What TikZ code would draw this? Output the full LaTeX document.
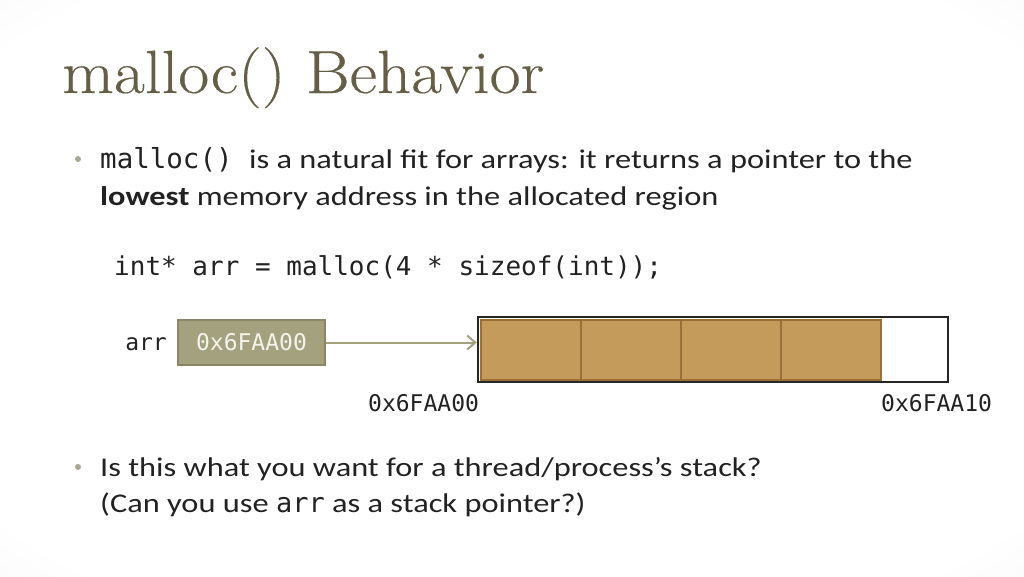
\documentclass[tikz,border=0pt]{standalone}
\usepackage{fontspec}
\newfontfamily\bodyfont[FakeStretch=1.2]{Carlito}
\newfontfamily\monofont{DejaVu Sans Mono}
\newfontfamily\titlefont[FakeStretch=1.1,FakeBold=0.3]{lmroman17-regular.otf}
\usetikzlibrary{arrows.meta}
\definecolor{titlec}{HTML}{645E45}
\definecolor{textc}{HTML}{222222}
\definecolor{dotc}{HTML}{A8A88E}
\definecolor{ptrfill}{HTML}{A4A17F}
\definecolor{ptrdraw}{HTML}{8A8766}
\definecolor{ptrtext}{HTML}{F4F3EC}
\definecolor{cellfill}{HTML}{C49B5A}
\definecolor{celldraw}{HTML}{9B7038}
\definecolor{arrowc}{HTML}{A4A17F}
\pgfdeclareradialshading{vign}{\pgfpoint{0bp}{0bp}}{color(0bp)=(white); color(32bp)=(white); color(50bp)=(black!7); color(72bp)=(black!22)}
\tikzset{
  body/.style={anchor=base west, inner sep=0pt, text=textc, font=\bodyfont\fontsize{27}{32}\selectfont},
  code/.style={anchor=base west, inner sep=0pt, text=textc, font=\monofont\fontsize{26}{30}\selectfont},
  addr/.style={anchor=base west, inner sep=0pt, text=textc, font=\monofont\fontsize{23}{26}\selectfont},
  bulletdot/.style={circle, fill=dotc, inner sep=0pt, minimum size=6pt},
  ptrbox/.style={draw=ptrdraw, fill=ptrfill, line width=1.5pt, minimum width=147pt, minimum height=45pt, inner sep=0pt, text=ptrtext, font=\monofont\fontsize{23}{26}\selectfont},
  cell/.style={draw=celldraw, fill=cellfill, line width=2pt, minimum width=100pt, minimum height=60pt, inner sep=0pt},
  memblock/.style={draw=black!85, line width=2.5pt, minimum width=470pt, minimum height=65pt, inner sep=0pt},
}
\begin{document}
\begin{tikzpicture}[x=1pt,y=-1pt]
\shade[shading=vign] (0,0) rectangle (1024,576);
\useasboundingbox (0,0) rectangle (1024,576);

\node[anchor=base west, inner sep=0pt, text=titlec, font=\titlefont\fontsize{61}{61}\selectfont] (title) at (62,93) {malloc() Behavior};

\node[bulletdot] (b1) at (78,159) {};
\node[body] (l1) at (100,168) {{\monofont\fontsize{27.5}{32}\selectfont malloc() }is a natural fit for arrays: it returns a pointer to the};
\node[body] (l2) at (100,205) {\textbf{lowest} memory address in the allocated region};

\node[code] (code) at (114,275) {int* arr = malloc(4 * sizeof(int));};

\node[addr, anchor=base east] (arrlbl) at (167,350) {arr};
\node[ptrbox] (ptr) at (251.5,342.5) {0x6FAA00};

\node[cell] (c1) at (530.5,350) {};
\node[cell] (c2) at (630.5,350) {};
\node[cell] (c3) at (730.5,350) {};
\node[cell] (c4) at (830.5,350) {};
\node[memblock] (mem) at (713,349.5) {};

\draw[arrowc, line width=2pt, -{Straight Barb[length=8pt,width=14pt]}] (ptr.east) -- (ptr.east -| mem.west);

\node[addr] (a0) at (368,411) {0x6FAA00};
\node[addr] (a1) at (881,411) {0x6FAA10};

\node[bulletdot] (b2) at (78,467) {};
\node[body] (l3) at (100,476) {Is this what you want for a thread/process’s stack?};
\node[body] (l4) at (100,512) {(Can you use {\monofont arr} as a stack pointer?)};
\end{tikzpicture}
\end{document}
